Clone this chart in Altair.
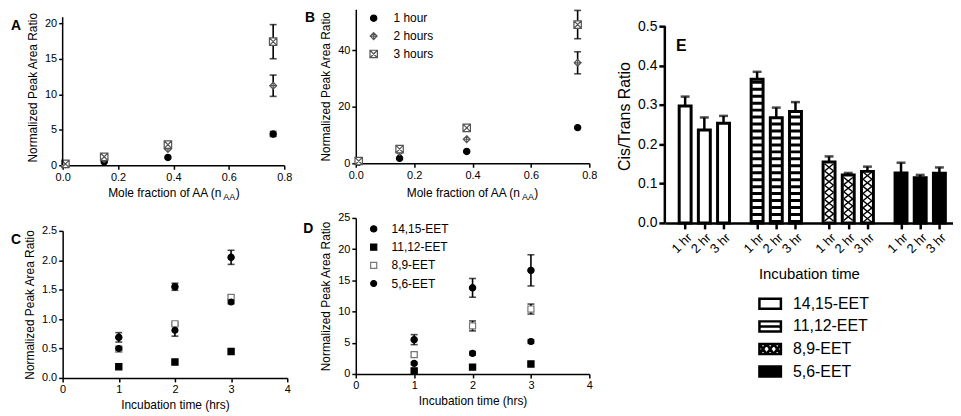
import altair as alt
import pandas as pd

FONT = "Liberation Sans"

# ---------------- data ----------------
mole_fraction = [0.01, 0.15, 0.38, 0.76]
hour_series = ["1 hour", "2 hours", "3 hours"]

a_1h = [0.15, 0.5, 1.1, 4.4]
a_2h = [0.15, 0.9, 2.3, 11.2]
a_3h = [0.2, 1.2, 2.9, 17.4]
a_1h_err = [0.0, 0.0, 0.0, 0.35]
a_2h_err = [0.0, 0.0, 0.0, 1.5]
a_3h_err = [0.0, 0.0, 0.0, 2.4]

b_1h = [0.4, 1.75, 4.2, 12.6]
b_2h = [0.6, 4.0, 8.5, 35.5]
b_3h = [0.8, 5.0, 12.5, 49.0]
b_1h_err = [0.0, 0.0, 0.0, 0.0]
b_2h_err = [0.0, 0.0, 0.0, 3.9]
b_3h_err = [0.0, 0.0, 0.0, 5.0]

incubation_time = [1, 2, 3]
eet_series = ["14,15-EET", "11,12-EET", "8,9-EET", "5,6-EET"]

c_1415 = [0.69, 1.55, 2.05]
c_1112 = [0.19, 0.27, 0.45]
c_89 = [0.49, 0.92, 1.37]
c_56 = [0.50, 0.81, 1.29]
c_1415_err = [0.08, 0.06, 0.12]
c_1112_err = [0.0, 0.0, 0.0]
c_89_err = [0.0, 0.03, 0.03]
c_56_err = [0.03, 0.10, 0.03]

d_1415 = [5.5, 13.8, 16.6]
d_1112 = [0.5, 1.1, 1.6]
d_89 = [3.1, 7.7, 10.4]
d_56 = [1.7, 3.3, 5.2]
d_1415_err = [0.8, 1.5, 2.5]
d_1112_err = [0.0, 0.0, 0.0]
d_89_err = [0.3, 0.8, 0.8]
d_56_err = [0.2, 0.3, 0.3]

e_hours = ["1 hr", "2 hr", "3 hr"]
e_1415 = [0.297, 0.236, 0.253]
e_1112 = [0.365, 0.267, 0.283]
e_89 = [0.155, 0.122, 0.131]
e_56 = [0.127, 0.115, 0.126]
e_1415_err = [0.024, 0.032, 0.019]
e_1112_err = [0.019, 0.026, 0.024]
e_89_err = [0.014, 0.005, 0.012]
e_56_err = [0.026, 0.007, 0.015]

# ---------------- styles ----------------
DIAMOND_PLUS = "M0,-1L1,0L0,1L-1,0Z M0,-1L0,1 M-1,0L1,0"
SQUARE_X = "M-1,-1L1,-1L1,1L-1,1Z M-1,-1L1,1 M-1,1L1,-1"
XPATH = "M-1,-0.8L1,0.8M-1,0.8L1,-0.8"
GREY = "#555555"
ONE = pd.DataFrame({"k": [0]})
CH = ["shape", "fill", "stroke", "size"]


def long_frame(xs, names, values, errors):
    rows = []
    for name, vals, errs in zip(names, values, errors):
        for x, v, e in zip(xs, vals, errs):
            rows.append({"x": x, "series": name, "y": v, "lo": v - e, "hi": v + e, "err": e})
    return pd.DataFrame(rows)


def text_layer(text, x, y, size=12, weight="normal", align="left", baseline="middle", opacity=1):
    return alt.Chart(ONE).mark_text(
        text=text, font=FONT, fontSize=size, fontWeight=weight, align=align,
        baseline=baseline, color="black", opacity=opacity
    ).encode(x=alt.value(x), y=alt.value(y))


def sub_title(center, y):
    main_w, sub_w, close_w = 115.4, 12.0, 4.0
    x0 = center - (main_w + sub_w + close_w) / 2
    return [
        text_layer("Mole fraction of AA (n", x0, y, size=12),
        text_layer("AA", x0 + main_w + 0.5, y + 4, size=9),
        text_layer(")", x0 + main_w + sub_w + 1, y, size=12),
    ]


def scatter_panel(df, width, height, xdom, xvals, xfmt, xtitle, ydom, yvals, yfmt,
                  names, shapes, fills, strokes, sizes, letter, letter_xy,
                  axis_top=None, legend_rows=None, legend_x=(16, 35), subtitle=None):
    xsc = alt.Scale(domain=xdom, nice=False, zero=False)
    ysc = alt.Scale(domain=ydom, nice=False, zero=False)
    xax = alt.Axis(values=xvals, format=xfmt, title=xtitle)
    yax = alt.Axis(values=yvals, format=yfmt, title="Normalized Peak Area Ratio",
                   domain=axis_top is None)

    def X(f):
        return alt.X(f, type="quantitative", scale=xsc, axis=xax)

    def Y(f):
        return alt.Y(f, type="quantitative", scale=ysc, axis=yax)

    shape_s = alt.Scale(domain=names, range=shapes)
    fill_s = alt.Scale(domain=names, range=fills)
    stroke_s = alt.Scale(domain=names, range=strokes)
    size_s = alt.Scale(domain=names, range=sizes)

    base = alt.Chart(df)
    eb = base.transform_filter("datum.err > 0")
    rule = eb.mark_rule(color="black", strokeWidth=1.6).encode(x=X("x"), y=Y("lo"), y2="hi:Q")
    cap_lo = eb.mark_tick(orient="horizontal", color="black", size=7, thickness=1.6).encode(x=X("x"), y=Y("lo"))
    cap_hi = eb.mark_tick(orient="horizontal", color="black", size=7, thickness=1.6).encode(x=X("x"), y=Y("hi"))
    points = base.mark_point(opacity=1, strokeWidth=1.2).encode(
        x=X("x"), y=Y("y"),
        shape=alt.Shape("series:N", scale=shape_s, legend=None),
        fill=alt.Fill("series:N", scale=fill_s, legend=None),
        stroke=alt.Stroke("series:N", scale=stroke_s, legend=None),
        size=alt.Size("series:N", scale=size_s, legend=None),
    )
    layers = [rule, cap_lo, cap_hi, points,
              text_layer(letter, letter_xy[0], letter_xy[1], size=14, weight="bold", baseline="alphabetic")]
    if axis_top is not None:
        ax_df = pd.DataFrame({"lo": [ydom[0]], "hi": [axis_top]})
        layers.append(alt.Chart(ax_df).mark_rule(color="black", strokeWidth=1.5).encode(
            x=alt.value(0), y=Y("lo"), y2="hi:Q"))
    if subtitle:
        layers += subtitle
    inner = alt.layer(*layers)
    if legend_rows is None:
        return inner.properties(width=width, height=height)
    leg_df = pd.DataFrame({"series": names})
    ly = alt.Y("series:N", sort=names, axis=None,
               scale=alt.Scale(type="point", domain=names, range=legend_rows, padding=0))
    leg_pts = alt.Chart(leg_df).mark_point(opacity=1, strokeWidth=1.2).encode(
        x=alt.value(legend_x[0]), y=ly,
        shape=alt.Shape("series:N", scale=shape_s, legend=None),
        fill=alt.Fill("series:N", scale=fill_s, legend=None),
        stroke=alt.Stroke("series:N", scale=stroke_s, legend=None),
        size=alt.Size("series:N", scale=size_s, legend=None),
    )
    leg_txt = alt.Chart(leg_df).mark_text(align="left", baseline="middle", font=FONT, fontSize=12,
                                          color="black").encode(
        x=alt.value(legend_x[1]), y=ly, text="series:N")
    return alt.layer(inner, leg_pts, leg_txt).resolve_scale(y="independent").properties(
        width=width, height=height)


def indep(c):
    return c.resolve_scale(**{k: "independent" for k in CH})


hour_shapes = ["circle", DIAMOND_PLUS, SQUARE_X]
hour_fills = ["black", "white", "white"]
hour_strokes = ["black", GREY, GREY]
hour_sizes = [40, 56, 42]

eet_shapes = ["circle", "square", "square", "circle"]
eet_fills = ["black", "black", "white", "black"]
eet_strokes = ["black", "black", "#777777", "black"]
eet_sizes = [40, 36, 49, 40]

# ---------------- panels A-D ----------------
df_a = long_frame(mole_fraction, hour_series, [a_1h, a_2h, a_3h], [a_1h_err, a_2h_err, a_3h_err])
df_b = long_frame(mole_fraction, hour_series, [b_1h, b_2h, b_3h], [b_1h_err, b_2h_err, b_3h_err])
df_c = long_frame(incubation_time, eet_series, [c_1415, c_1112, c_89, c_56],
                  [c_1415_err, c_1112_err, c_89_err, c_56_err])
df_d = long_frame(incubation_time, eet_series, [d_1415, d_1112, d_89, d_56],
                  [d_1415_err, d_1112_err, d_89_err, d_56_err])

A = scatter_panel(df_a, 223, 157, [0, 0.8], [0, 0.2, 0.4, 0.6, 0.8], ".1f", None,
                  [0, 21.96], [0, 5, 10, 15, 20], "d",
                  hour_series, hour_shapes, hour_fills, hour_strokes, hour_sizes,
                  "A", (-52, 21), axis_top=20.84, subtitle=sub_title(111.5, 157 + 28))
B = scatter_panel(df_b, 235, 155, [0, 0.8], [0, 0.2, 0.4, 0.6, 0.8], ".1f", None,
                  [0, 54.4], [0, 20, 40], "d",
                  hour_series, hour_shapes, hour_fills, hour_strokes, hour_sizes,
                  "B", (-51, 13), legend_rows=[9, 45], legend_x=(18, 38),
                  subtitle=sub_title(117, 155 + 30))
C = scatter_panel(df_c, 226, 148, [0, 4], [0, 1, 2, 3, 4], "d", "Incubation time (hrs)",
                  [0, 2.5], [0, 0.5, 1.0, 1.5, 2.0, 2.5], ".1f",
                  eet_series, eet_shapes, eet_fills, eet_strokes, eet_sizes,
                  "C", (-52, 13.7))
D = scatter_panel(df_d, 235, 157, [0, 4], [0, 1, 2, 3, 4], "d", "Incubation time (hrs)",
                  [0, 25], [0, 5, 10, 15, 20, 25], "d",
                  eet_series, eet_shapes, eet_fills, eet_strokes, eet_sizes,
                  "D", (-53, 15.3), legend_rows=[11, 66], legend_x=(18, 36))

# ---------------- panel E ----------------
GAP = 3.75
E_TOP = 0.5429
e_vals = [e_1415, e_1112, e_89, e_56]
e_errs = [e_1415_err, e_1112_err, e_89_err, e_56_err]
rows = []
for g, (name, vals, errs) in enumerate(zip(eet_series, e_vals, e_errs)):
    for h, (hr, v, e) in enumerate(zip(e_hours, vals, errs)):
        rows.append({"series": name, "hour": hr, "pos": g * GAP + h, "value": v, "top": v + e, "base": 0.0})
e_df = pd.DataFrame(rows)

STEP = 0.0182
hatch = []
for r in rows:
    if r["series"] == "8,9-EET":
        n = int(r["value"] / STEP)
        off = (r["value"] - n * STEP) / 2
        for k in range(n):
            hatch.append({"pos": r["pos"], "ymid": off + (k + 0.5) * STEP})
hatch_df = pd.DataFrame(hatch)

exs = alt.Scale(domain=[-0.8, 13.7], nice=False, zero=False)
eys = alt.Scale(domain=[0, E_TOP], nice=False)
label_expr = ("[" + ",".join("'%s'" % h for h in e_hours) + "]"
              + "[round(datum.value - floor(datum.value / %s + 0.01) * %s)]" % (GAP, GAP))
exax = alt.Axis(values=list(e_df["pos"]), labelExpr=label_expr, title="Incubation time",
                labelAngle=315, labelFontSize=13, titleFontSize=15, domainWidth=2.5,
                tickWidth=2.5, tickSize=6, labelOverlap=False, titlePadding=11)
eyax = alt.Axis(values=[0, 0.1, 0.2, 0.3, 0.4, 0.5], format=".1f", title="Cis/Trans Ratio",
                labelFontSize=14, titleFontSize=16, domain=False, tickWidth=2.5, tickSize=6)


def EX(f):
    return alt.X(f, type="quantitative", scale=exs, axis=exax)


def EY(f):
    return alt.Y(f, type="quantitative", scale=eys, axis=eyax)


ebase = alt.Chart(e_df)
bars_fill = ebase.mark_bar(orient="vertical", size=12, strokeWidth=0).encode(
    x=EX("pos"), y=EY("value"),
    fill=alt.Fill("series:N", scale=alt.Scale(domain=eet_series, range=["white", "white", "white", "black"]),
                  legend=None))
stripes = ebase.transform_filter("datum.series == '11,12-EET'").mark_rule(
    strokeWidth=10, strokeDash=[3, 4], color="black").encode(x=EX("pos"), y=EY("base"), y2="value:Q")
hatch_layer = alt.Chart(hatch_df).mark_point(
    shape=XPATH, size=81, filled=False, stroke="black", strokeWidth=1.4, opacity=1
).encode(x=EX("pos"), y=EY("ymid"))
outline = ebase.mark_bar(orient="vertical", size=12, fillOpacity=0, stroke="black", strokeWidth=3).encode(
    x=EX("pos"), y=EY("value"))
e_rule = ebase.mark_rule(color="black", strokeWidth=2.5).encode(x=EX("pos"), y=EY("value"), y2="top:Q")
e_cap = ebase.mark_tick(orient="horizontal", color="black", size=9, thickness=2.5).encode(x=EX("pos"), y=EY("top"))
e_axis_df = pd.DataFrame({"lo": [0.0], "hi": [0.5]})
e_axis = alt.Chart(e_axis_df).mark_rule(color="black", strokeWidth=2.5).encode(
    x=alt.value(0), y=EY("lo"), y2="hi:Q")

E = alt.layer(
    bars_fill, stripes, hatch_layer, outline, e_rule, e_cap, e_axis,
    text_layer("E", 11.3, 42, size=16, weight="bold", baseline="alphabetic"),
).properties(width=290, height=215)

# legend for E
SW = "M-0.9,-0.42H0.9V0.42H-0.9Z"
xs3 = " ".join("M%.2f,-0.42L%.2f,0.42M%.2f,0.42L%.2f,-0.42" % (-0.9 + 0.6 * i, -0.3 + 0.6 * i, -0.9 + 0.6 * i, -0.3 + 0.6 * i)
               for i in range(3))
sw_paths = [SW, SW + " M-0.9,0H0.9", SW + " " + xs3, SW]
leg_df = pd.DataFrame({"series": eet_series})
leg_y = alt.Y("series:N", sort=eet_series, scale=alt.Scale(domain=eet_series, padding=0.5), axis=None)
leg_sw = alt.Chart(leg_df).mark_point(opacity=1, strokeWidth=2.5, stroke="black").encode(
    x=alt.value(106), y=leg_y, size=alt.value(576),
    shape=alt.Shape("series:N", scale=alt.Scale(domain=eet_series, range=sw_paths), legend=None),
    fill=alt.Fill("series:N", scale=alt.Scale(domain=eet_series, range=["white", "white", "white", "black"]),
                  legend=None))
leg_txt = alt.Chart(leg_df).mark_text(align="left", baseline="middle", font=FONT, fontSize=16, color="black").encode(
    x=alt.value(129), y=leg_y, text="series:N")
E_leg = alt.layer(leg_sw, leg_txt).properties(width=200, height=91)

col1 = indep(alt.vconcat(A, C, spacing=23))
col2 = indep(alt.vconcat(B, D, spacing=10))
col3 = indep(alt.vconcat(E, E_leg, spacing=10))
left = indep(alt.hconcat(col1, col2, spacing=11))
chart = indep(alt.hconcat(left, col3, spacing=19))
chart = chart.properties(padding={"left": 3, "top": 0, "right": 0, "bottom": 0})
chart = chart.configure_view(stroke=None).configure_axis(
    labelFont=FONT, titleFont=FONT, labelColor="black", titleColor="black",
    domainColor="black", tickColor="black", grid=False, labelFontSize=11, titleFontSize=12,
    titleFontWeight="normal", domainWidth=1.5, tickWidth=1.5, tickSize=4, labelPadding=2,
    titlePadding=5, labelFlush=False
)

chart.save("out.html", embed_options={"renderer": "svg", "actions": False})
